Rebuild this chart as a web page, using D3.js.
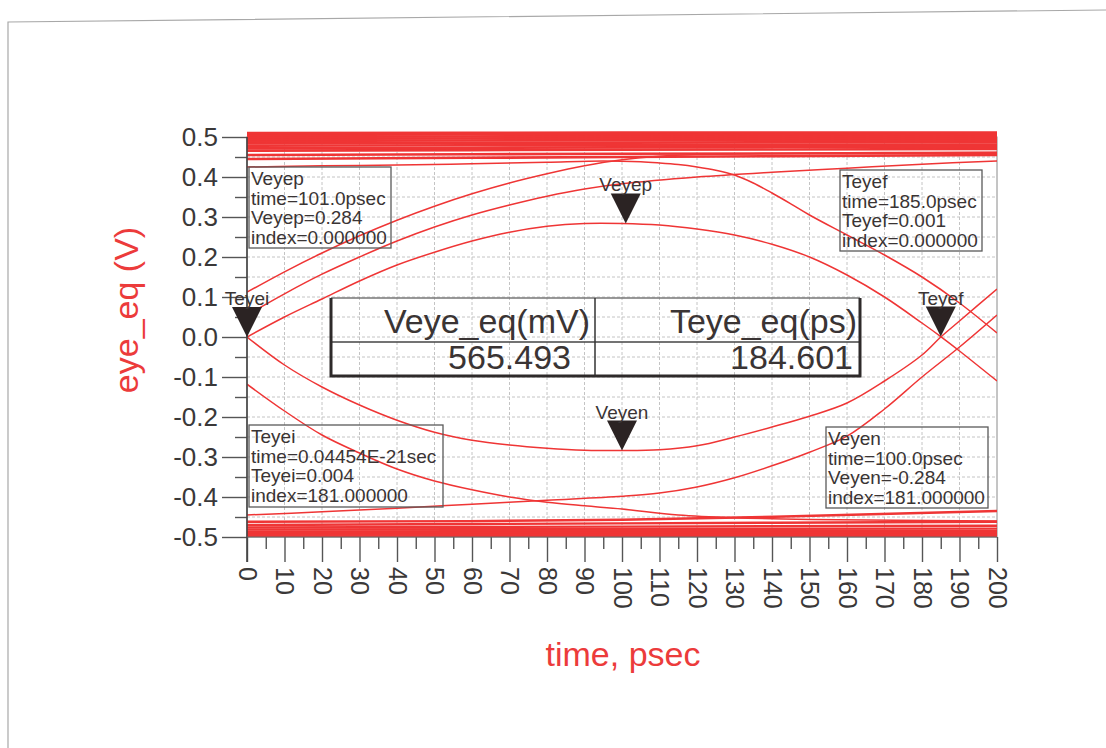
<!DOCTYPE html>
<html>
<head>
<meta charset="utf-8">
<script src="https://cdn.jsdelivr.net/npm/d3@7"></script>
<style>
body { margin: 0; background: #fff; }
svg { display: block; }
</style>
</head>
<body>
<div id="viz"></div>
<script>

// ---- data (time in psec, voltage in V) ----

var xTickValues = [0, 10, 20, 30, 40, 50, 60, 70, 80, 90, 100, 110, 120, 130, 140, 150, 160, 170, 180, 190, 200];
var xTickLabels = ["0", "10", "20", "30", "40", "50", "60", "70", "80", "90", "100", "110", "120", "130", "140", "150", "160", "170", "180", "190", "200"];
var yTickValues = [-0.5, -0.4, -0.3, -0.2, -0.1, 0.0, 0.1, 0.2, 0.3, 0.4, 0.5];
var yTickLabels = ["-0.5", "-0.4", "-0.3", "-0.2", "-0.1", "0.0", "0.1", "0.2", "0.3", "0.4", "0.5"];

// inner eye, upper edge (Veyep sits on it)
var tracePeak = [[0, 0], [10, 0.05], [20, 0.095], [30, 0.14], [40, 0.18], [50, 0.212], [60, 0.24], [70, 0.262], [80, 0.277], [90, 0.284], [100, 0.284], [110, 0.28], [120, 0.27], [130, 0.255], [140, 0.232], [150, 0.2], [160, 0.155], [170, 0.1], [180, 0.035], [185, 0.001], [190, -0.035], [200, -0.11]];
// inner eye, lower edge (Veyen sits on it)
var traceTrough = [[0, 0], [10, -0.07], [20, -0.125], [30, -0.17], [40, -0.208], [50, -0.238], [60, -0.258], [70, -0.27], [80, -0.278], [90, -0.283], [100, -0.284], [110, -0.282], [120, -0.272], [130, -0.25], [140, -0.225], [150, -0.198], [160, -0.165], [170, -0.11], [180, -0.045], [185, 0], [190, 0.04], [200, 0.12]];
// rising edges coming in from the left
var traceRise1 = [[0, 0.112], [10, 0.163], [20, 0.21], [30, 0.253], [40, 0.292], [50, 0.327], [60, 0.358], [70, 0.385], [80, 0.408], [90, 0.428], [100, 0.443], [110, 0.452], [120, 0.456], [140, 0.459], [170, 0.461], [200, 0.462]];
var traceRise2 = [[0, 0.055], [10, 0.108], [20, 0.157], [30, 0.2], [40, 0.24], [50, 0.275], [60, 0.305], [70, 0.33], [80, 0.352], [90, 0.37], [100, 0.383], [120, 0.4], [140, 0.412], [160, 0.422], [180, 0.432], [200, 0.44]];
// falling edge leaving on the right
var traceFall = [[0, 0.425], [20, 0.428], [40, 0.43], [60, 0.433], [80, 0.437], [95, 0.44], [105, 0.438], [110, 0.435], [115, 0.431], [120, 0.425], [125, 0.417], [130, 0.405], [135, 0.385], [140, 0.36], [145, 0.333], [150, 0.305], [160, 0.255], [170, 0.205], [180, 0.15], [190, 0.085], [200, 0.01]];
// falling edge coming in from the left
var traceDrop = [[0, -0.118], [10, -0.185], [20, -0.245], [30, -0.29], [40, -0.33], [50, -0.36], [60, -0.382], [70, -0.4], [80, -0.413], [90, -0.422], [100, -0.43], [115, -0.445], [130, -0.452], [150, -0.456], [200, -0.46]];
// rising edge leaving on the right
var traceClimb = [[0, -0.445], [20, -0.437], [40, -0.428], [60, -0.418], [80, -0.408], [100, -0.398], [110, -0.39], [120, -0.375], [130, -0.352], [140, -0.322], [150, -0.288], [160, -0.248], [170, -0.18], [180, -0.1], [190, -0.025], [200, 0.055]];

// settled "1" and "0" levels (values at t = 0, 100, 200)
var levelTimes = [0, 100, 200];
var highLevels = [
  [0.445, 0.45, 0.455], [0.455, 0.458, 0.46], [0.466, 0.468, 0.47], [0.472, 0.474, 0.476],
  [0.478, 0.48, 0.481], [0.484, 0.486, 0.487], [0.49, 0.492, 0.493], [0.495, 0.497, 0.498],
  [0.5, 0.502, 0.503], [0.505, 0.507, 0.508], [0.51, 0.511, 0.511]
];
var lowLevels = [
  [-0.462, -0.457, -0.435], [-0.47, -0.466, -0.462], [-0.476, -0.474, -0.472], [-0.481, -0.48, -0.479],
  [-0.486, -0.485, -0.485], [-0.49, -0.49, -0.49], [-0.494, -0.495, -0.495], [-0.498, -0.499, -0.5]
];

// markers
var markerNames = ["Teyei", "Veyep", "Veyen", "Teyef"];
var markerT = [0, 101, 100, 185];
var markerV = [0.0, 0.284, -0.284, 0.001];

// marker readouts
var readoutVeyep = ["Veyep", "time=101.0psec", "Veyep=0.284", "index=0.000000"];
var readoutTeyef = ["Teyef", "time=185.0psec", "Teyef=0.001", "index=0.000000"];
var readoutTeyei = ["Teyei", "time=0.04454E-21sec", "Teyei=0.004", "index=181.000000"];
var readoutVeyen = ["Veyen", "time=100.0psec", "Veyen=-0.284", "index=181.000000"];

// eye measurement table
var tableHeaders = ["Veye_eq(mV)", "Teye_eq(ps)"];
var tableValues = ["565.493", "184.601"];

// ---- layout ----
var width = 1106, height = 748;
var plotLeft = 247, plotRight = 997, plotTop = 137, plotBottom = 537;
var fontFamily = "'Liberation Sans', Arial, sans-serif";
var traceColor = "#ef3535";
var inkColor = "#3a3434";

var svg = d3.select("#viz").append("svg")
  .attr("width", width)
  .attr("height", height);

var x = d3.scaleLinear().domain([0, 200]).range([plotLeft, plotRight]);
var y = d3.scaleLinear().domain([-0.5, 0.5]).range([plotBottom, plotTop]);

//scanned page edge
svg.append("polyline")
  .attr("points", "8,748 8,22 1106,10")
  .attr("fill", "none")
  .attr("stroke", "#a8a8a8")
  .attr("stroke-width", 1.2);

//grid
var grid = svg.append("g").attr("class", "grid");
grid.selectAll(".vgrid")
  .data(d3.range(10, 200, 10))
  .enter().append("line")
  .attr("x1", function(d) { return x(d); })
  .attr("x2", function(d) { return x(d); })
  .attr("y1", plotTop)
  .attr("y2", plotBottom);
grid.selectAll(".hgrid")
  .data(d3.range(-9, 10).map(function(k) { return k * 0.05; }))
  .enter().append("line")
  .attr("x1", plotLeft)
  .attr("x2", plotRight)
  .attr("y1", function(d) { return y(d); })
  .attr("y2", function(d) { return y(d); });
grid.selectAll("line")
  .attr("stroke", "#c4c4c4")
  .attr("stroke-width", 1)
  .attr("stroke-dasharray", "3,2");

//plot frame
svg.append("rect")
  .attr("x", plotLeft)
  .attr("y", plotTop)
  .attr("width", plotRight - plotLeft)
  .attr("height", plotBottom - plotTop)
  .attr("fill", "none")
  .attr("stroke", "#8a8a8a")
  .attr("stroke-width", 1);

//traces
svg.append("clipPath").attr("id", "plotclip")
  .append("rect")
  .attr("x", plotLeft).attr("y", plotTop - 6)
  .attr("width", plotRight - plotLeft).attr("height", plotBottom - plotTop + 6);

var line = d3.line()
  .x(function(d) { return x(d[0]); })
  .y(function(d) { return y(d[1]); })
  .curve(d3.curveCatmullRom.alpha(0.5));

var traces = svg.append("g").attr("clip-path", "url(#plotclip)");

function levelPoints(vals) {
  return levelTimes.map(function(t, i) { return [t, vals[i]]; });
}

traces.selectAll(".hi")
  .data(highLevels)
  .enter().append("path")
  .attr("d", function(d) { return line(levelPoints(d)); })
  .attr("stroke-width", 2.6);

traces.selectAll(".lo")
  .data(lowLevels)
  .enter().append("path")
  .attr("d", function(d) { return line(levelPoints(d)); })
  .attr("stroke-width", 2.4);

var edges = [tracePeak, traceTrough, traceRise1, traceRise2, traceFall, traceDrop, traceClimb];
traces.selectAll(".edge")
  .data(edges)
  .enter().append("path")
  .attr("d", line)
  .attr("stroke-width", 1.5);

traces.selectAll("path")
  .attr("fill", "none")
  .attr("stroke", traceColor);

//axes
var yAxis = svg.append("g")
  .attr("transform", "translate(" + plotLeft + ",0)")
  .call(d3.axisLeft(y).tickValues(yTickValues).tickSize(25).tickPadding(4)
    .tickFormat(function(d, i) { return yTickLabels[i]; }));
var yMinor = svg.append("g")
  .attr("transform", "translate(" + plotLeft + ",0)")
  .call(d3.axisLeft(y).tickValues(d3.range(-9, 10, 2).map(function(k) { return k * 0.05; }))
    .tickSize(12).tickFormat(""));

var xAxis = svg.append("g")
  .attr("transform", "translate(0," + plotBottom + ")")
  .call(d3.axisBottom(x).tickValues(xTickValues).tickSize(25)
    .tickFormat(function(d, i) { return xTickLabels[i]; }));
var xMinor = svg.append("g")
  .attr("transform", "translate(0," + plotBottom + ")")
  .call(d3.axisBottom(x).tickValues(d3.range(5, 200, 10)).tickSize(12).tickFormat(""));

[yAxis, yMinor, xAxis, xMinor].forEach(function(ax) {
  ax.select(".domain").remove();
  ax.selectAll(".tick line").attr("stroke", "#555").attr("stroke-width", 1.4);
  ax.selectAll("text")
    .attr("fill", "#3a3838")
    .style("font-family", fontFamily)
    .style("font-size", "26px");
});

xAxis.selectAll("text")
  .attr("x", 0)
  .attr("y", 0)
  .attr("dy", "0.35em")
  .attr("transform", "translate(0,30) rotate(90)")
  .style("text-anchor", "start")
  .style("font-size", "25px");

//axis spines
svg.append("line")
  .attr("x1", plotLeft).attr("x2", plotLeft)
  .attr("y1", plotTop).attr("y2", plotBottom + 25)
  .attr("stroke", "#444").attr("stroke-width", 1.6);
svg.append("line")
  .attr("x1", plotLeft).attr("x2", plotRight)
  .attr("y1", plotBottom).attr("y2", plotBottom)
  .attr("stroke", "#666").attr("stroke-width", 1);

//axis titles
svg.append("text")
  .attr("transform", "translate(138,310) rotate(-90)")
  .attr("text-anchor", "middle")
  .attr("fill", "#ec3b3b")
  .style("font-family", fontFamily)
  .style("font-size", "34px")
  .text("eye_eq (V)");
svg.append("text")
  .attr("x", 623)
  .attr("y", 666)
  .attr("text-anchor", "middle")
  .attr("fill", "#ec3b3b")
  .style("font-family", fontFamily)
  .style("font-size", "34px")
  .text("time, psec");

//markers (triangles point down onto the trace)
var markers = svg.selectAll(".marker")
  .data(markerNames)
  .enter().append("g")
  .attr("class", "marker")
  .attr("transform", function(d, i) { return "translate(" + x(markerT[i]) + "," + y(markerV[i]) + ")"; });
markers.append("path")
  .attr("d", "M0,0 L-15,-30 L15,-30 Z")
  .attr("fill", "#2b2323");
markers.append("text")
  .attr("y", -32)
  .attr("text-anchor", "middle")
  .attr("fill", inkColor)
  .style("font-family", fontFamily)
  .style("font-size", "19px")
  .text(function(d) { return d; });

//marker readout boxes
function readout(lines, bx, by, bw, bh) {
  var g = svg.append("g").attr("transform", "translate(" + bx + "," + by + ")");
  g.append("rect")
    .attr("width", bw).attr("height", bh)
    .attr("fill", "none")
    .attr("stroke", "#5a5a5a")
    .attr("stroke-width", 1.3);
  g.selectAll("text")
    .data(lines)
    .enter().append("text")
    .attr("x", 2)
    .attr("y", function(d, i) { return 18 + i * 19.5; })
    .attr("fill", inkColor)
    .style("font-family", fontFamily)
    .style("font-size", "19px")
    .text(function(d) { return d; });
}
readout(readoutVeyep, 249, 167, 142, 81);
readout(readoutTeyef, 840, 170, 142, 81);
readout(readoutTeyei, 249, 425, 194, 82);
readout(readoutVeyen, 826, 427, 162, 81);

//eye measurement table
var tbl = svg.append("g");
var tL = 331, tR = 860, tT = 298, tM = 342, tB = 376, tC = 595;
tbl.append("line").attr("x1", tL).attr("x2", tR).attr("y1", tT).attr("y2", tT)
  .attr("stroke", "#777").attr("stroke-width", 1.5);
tbl.append("line").attr("x1", tL).attr("x2", tR).attr("y1", tM).attr("y2", tM)
  .attr("stroke", "#444").attr("stroke-width", 1.5);
tbl.append("line").attr("x1", tC).attr("x2", tC).attr("y1", tT).attr("y2", tB)
  .attr("stroke", "#333").attr("stroke-width", 1.5);
tbl.append("path")
  .attr("d", "M" + tL + "," + tT + " L" + tL + "," + tB + " L" + tR + "," + tB + " L" + tR + "," + tT)
  .attr("fill", "none")
  .attr("stroke", "#2e2a2a")
  .attr("stroke-width", 3);

var headerRight = [590, 857];
var valueRight = [571, 853];
tbl.selectAll(".hdr")
  .data(tableHeaders)
  .enter().append("text")
  .attr("x", function(d, i) { return headerRight[i]; })
  .attr("y", 333)
  .text(function(d) { return d; });
tbl.selectAll(".val")
  .data(tableValues)
  .enter().append("text")
  .attr("x", function(d, i) { return valueRight[i]; })
  .attr("y", 369)
  .text(function(d) { return d; });
tbl.selectAll("text")
  .attr("text-anchor", "end")
  .attr("fill", inkColor)
  .style("font-family", fontFamily)
  .style("font-size", "34px");

</script>
</body>
</html>
